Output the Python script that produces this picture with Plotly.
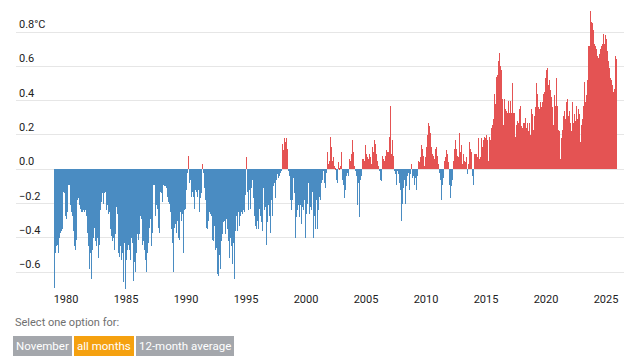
import plotly.graph_objects as go

# Monthly global temperature anomaly (°C), Jan 1979 - Nov 2025
anom_1979_1988 = [
    -0.69, -0.49, -0.45, -0.44, -0.49, -0.40, -0.37, -0.36, -0.35, -0.13, -0.14, -0.27,
    -0.29, -0.25, -0.09, -0.09, -0.21, -0.25, -0.27, -0.36, -0.45, -0.47, -0.41, -0.18,
    -0.17, -0.21, -0.23, -0.25, -0.25, -0.24, -0.25, -0.24, -0.27, -0.37, -0.45, -0.58,
    -0.49, -0.64, -0.47, -0.40, -0.34, -0.42, -0.45, -0.40, -0.52, -0.44, -0.24, -0.19,
    -0.14, -0.20, -0.14, -0.13, -0.24, -0.21, -0.26, -0.25, -0.35, -0.39, -0.42, -0.40,
    -0.47, -0.38, -0.22, -0.26, -0.49, -0.51, -0.45, -0.53, -0.49, -0.66, -0.43, -0.70,
    -0.53, -0.47, -0.44, -0.47, -0.53, -0.40, -0.43, -0.65, -0.54, -0.60, -0.49, -0.38,
    -0.41, -0.38, -0.27, -0.29, -0.44, -0.42, -0.47, -0.53, -0.60, -0.49, -0.43, -0.34,
    -0.29, -0.45, -0.37, -0.09, -0.09, -0.27, -0.21, -0.23, -0.34, -0.37, -0.13, -0.14,
    -0.19, -0.09, -0.10, -0.10, -0.11, -0.16, -0.19, -0.20, -0.25, -0.35, -0.43, -0.60,
]
anom_1989_1998 = [
    -0.34, -0.32, -0.37, -0.30, -0.40, -0.41, -0.25, -0.30, -0.26, -0.49, -0.24, -0.23,
    -0.12, -0.02, 0.08, -0.08, -0.06, -0.16, -0.13, -0.16, -0.23, -0.12, -0.13, -0.16,
    -0.12, -0.25, -0.17, -0.14, 0.03, -0.02, -0.11, -0.18, -0.34, -0.35, -0.30, -0.25,
    -0.26, -0.27, -0.41, -0.42, -0.33, -0.47, -0.46, -0.61, -0.62, -0.50, -0.58, -0.42,
    -0.38, -0.31, -0.30, -0.38, -0.29, -0.35, -0.42, -0.52, -0.40, -0.45, -0.55, -0.43,
    -0.64, -0.36, -0.27, -0.36, -0.25, -0.33, -0.27, -0.25, -0.26, -0.24, -0.25, -0.15,
    0.07, -0.13, -0.24, -0.12, -0.23, -0.11, -0.06, -0.17, -0.27, -0.33, -0.35, -0.30,
    -0.35, -0.23, -0.27, -0.31, -0.36, -0.11, -0.24, -0.22, -0.44, -0.31, -0.21, -0.27,
    -0.37, -0.18, -0.27, -0.10, -0.08, -0.17, -0.06, -0.03, -0.05, -0.04, -0.02, -0.01,
    0.15, 0.11, 0.18, 0.16, 0.18, 0.12, -0.01, -0.04, -0.18, -0.24, -0.18, -0.05,
]
anom_1999_2008 = [
    -0.14, -0.40, -0.28, -0.24, -0.21, -0.28, -0.21, -0.32, -0.22, -0.24, -0.18, -0.40,
    -0.26, -0.20, -0.08, -0.26, -0.22, -0.24, -0.13, -0.40, -0.27, -0.35, -0.18, -0.35,
    -0.24, -0.16, -0.18, -0.08, -0.06, -0.01, -0.08, -0.11, -0.02, 0.10, 0.03, 0.05,
    0.19, 0.13, 0.05, 0.07, 0.02, 0.01, -0.06, -0.08, 0.04, 0.01, 0.02, 0.10,
    -0.06, -0.09, -0.17, -0.12, -0.04, -0.02, -0.04, 0.06, 0.05, 0.09, 0.17, 0.10,
    0.02, -0.01, -0.04, -0.21, -0.08, -0.28, -0.06, -0.04, 0.06, 0.06, 0.05, 0.14,
    0.09, 0.07, 0.06, 0.09, 0.07, 0.03, 0.13, 0.10, 0.17, 0.15, 0.09, 0.05,
    0.02, -0.01, -0.06, -0.07, 0.08, 0.06, 0.05, 0.08, 0.11, 0.10, 0.10, 0.19,
    0.37, 0.09, 0.17, 0.08, -0.01, -0.03, -0.09, -0.01, -0.03, -0.08, -0.12, -0.30,
    -0.20, -0.11, -0.06, -0.20, -0.10, -0.04, -0.02, -0.12, -0.03, 0.03, -0.05, -0.04,
]
anom_2009_2018 = [
    -0.09, -0.05, -0.12, -0.04, 0.05, 0.04, 0.07, 0.14, 0.12, 0.08, 0.02, 0.07,
    0.13, 0.20, 0.27, 0.25, 0.21, 0.13, 0.09, 0.08, 0.06, 0.12, 0.13, 0.08,
    0.03, -0.02, -0.06, -0.18, -0.09, -0.05, 0.05, 0.07, 0.11, 0.09, 0.04, -0.09,
    -0.17, -0.10, -0.06, 0.05, 0.12, 0.17, 0.12, 0.08, 0.07, 0.21, 0.10, 0.14,
    0.03, 0.09, 0.05, 0.04, 0.07, -0.03, 0.03, 0.16, 0.12, 0.10, -0.04, -0.09,
    0.09, 0.09, 0.09, 0.07, 0.18, 0.06, 0.07, 0.18, 0.13, 0.17, 0.19, 0.18,
    0.20, 0.17, 0.05, 0.19, 0.17, 0.24, 0.26, 0.29, 0.44, 0.38, 0.54, 0.55,
    0.63, 0.68, 0.60, 0.58, 0.41, 0.26, 0.41, 0.35, 0.34, 0.33, 0.40, 0.33,
    0.40, 0.33, 0.50, 0.33, 0.33, 0.19, 0.26, 0.28, 0.27, 0.35, 0.37, 0.25,
    0.24, 0.27, 0.27, 0.30, 0.24, 0.27, 0.22, 0.27, 0.20, 0.35, 0.32, 0.23,
]
anom_2019_2025 = [
    0.31, 0.36, 0.50, 0.44, 0.36, 0.35, 0.39, 0.36, 0.39, 0.44, 0.45, 0.53,
    0.58, 0.59, 0.49, 0.52, 0.46, 0.42, 0.36, 0.26, 0.43, 0.37, 0.53, 0.37,
    0.23, 0.22, 0.06, 0.18, 0.23, 0.31, 0.34, 0.29, 0.39, 0.41, 0.31, 0.34,
    0.27, 0.22, 0.39, 0.27, 0.32, 0.28, 0.37, 0.29, 0.35, 0.32, 0.16, 0.26,
    0.29, 0.37, 0.51, 0.39, 0.43, 0.52, 0.72, 0.72, 0.92, 0.86, 0.85, 0.81,
    0.73, 0.72, 0.70, 0.66, 0.65, 0.67, 0.70, 0.72, 0.73, 0.79, 0.73, 0.78,
    0.76, 0.69, 0.63, 0.59, 0.53, 0.52, 0.49, 0.45, 0.47, 0.66, 0.64,
]

start_year = 1979
year_ticks = [1980, 1985, 1990, 1995, 2000, 2005, 2010, 2015, 2020, 2025]
y_ticks = [-0.6, -0.4, -0.2, 0.0, 0.2, 0.4, 0.6, 0.8]
y_tick_labels = ["\u22120.6", "\u22120.4", "\u22120.2", "0.0", "0.2", "0.4", "0.6", "0.8°C"]
options_label = "Select one option for:"
options = ["November", "all months", "12-month average"]
active_option = "all months"

values = (anom_1979_1988 + anom_1989_1998 + anom_1999_2008
          + anom_2009_2018 + anom_2019_2025)
x = [start_year + (i + 0.5) / 12 for i in range(len(values))]

BLUE = "#4a8cc2"
RED = "#e45353"
colors = [RED if v >= 0 else BLUE for v in values]

fig = go.Figure(
    go.Bar(
        x=x, y=values, width=1 / 12,
        marker=dict(color=colors, line=dict(width=0)),
        hoverinfo="skip",
    )
)

FONT = "Roboto, Arial, sans-serif"
fig.update_layout(
    width=632, height=352,
    margin=dict(l=8, r=16, t=0, b=69),
    paper_bgcolor="white", plot_bgcolor="white",
    bargap=0, showlegend=False,
    font=dict(family=FONT, size=11, color="#222"),
)
fig.update_xaxes(
    range=[1975.833, 2026.5],
    tickvals=year_ticks, ticktext=[str(t) for t in year_ticks],
    showgrid=False, zeroline=False, showline=False, ticks="",
    tickfont=dict(family=FONT, size=11, color="#222"),
    fixedrange=True,
)
fig.update_yaxes(
    range=[-0.71, 0.94],
    tickvals=y_ticks, ticktext=y_tick_labels,
    ticklabelposition="inside top",
    showgrid=True, gridcolor="#e6e6e6", gridwidth=1,
    zeroline=False, showline=False, ticks="",
    tickfont=dict(family=FONT, size=11, color="#222"),
    fixedrange=True,
)

fig.add_annotation(
    text=options_label, xref="paper", yref="paper", x=0, y=0,
    xanchor="left", yanchor="middle", xshift=-3, yshift=-31, showarrow=False,
    font=dict(family=FONT, size=11, color="#6f6f6f"),
)

btn_x = [-3, 58, 120]
for label, bx in zip(options, btn_x):
    active = label == active_option
    bg = "#f5a10f" if active else "#a4a7ac"
    fig.add_annotation(
        text=label, xref="paper", yref="paper", x=0, y=0,
        xanchor="left", yanchor="middle", xshift=bx, yshift=-55,
        showarrow=False, bgcolor=bg, bordercolor=bg, borderwidth=1, borderpad=2,
        font=dict(family=FONT, size=11.5, color="white"),
    )

fig.write_html("out.html")
